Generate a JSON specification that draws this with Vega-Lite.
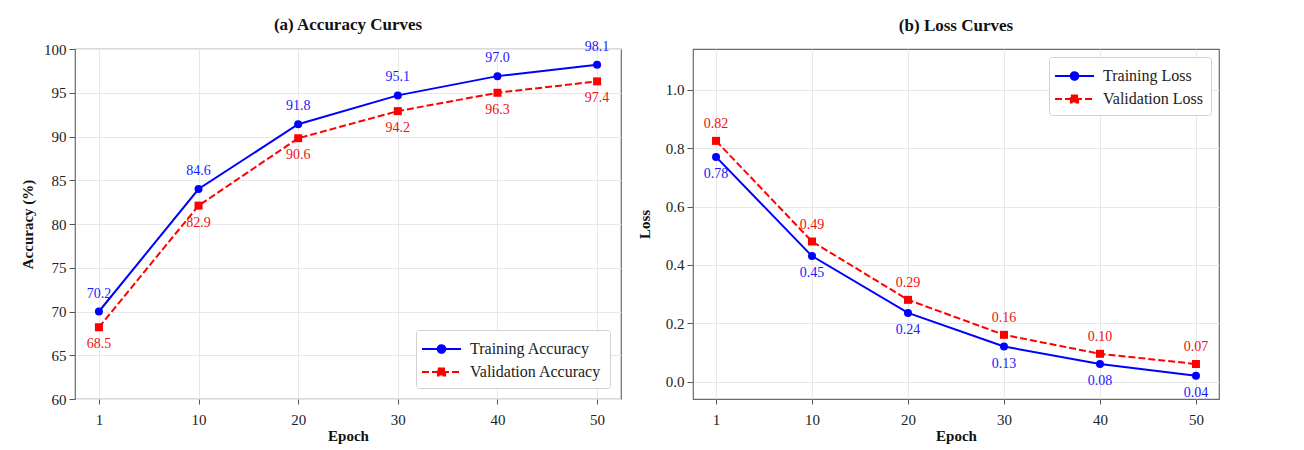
{
  "$schema": "https://vega.github.io/schema/vega-lite/v6.json",
  "padding": {"left": 19, "top": 15, "right": 5, "bottom": 5},
  "background": "white",
  "spacing": 14,
  "resolve": {
    "scale": {"fill": "independent", "stroke": "independent", "shape": "independent", "strokeDash": "independent", "x": "independent", "y": "independent"},
    "legend": {"fill": "independent", "stroke": "independent", "shape": "independent", "strokeDash": "independent"}
  },
  "config": {
    "font": "Liberation Serif",
    "view": {"stroke": "#6b6b6b", "strokeWidth": 1.2},
    "axis": {
      "labelFont": "Liberation Serif", "labelFontSize": 15, "labelColor": "#222222",
      "titleFont": "Liberation Serif", "titleFontSize": 15, "titleFontWeight": "bold", "titleColor": "#111111",
      "domain": false, "tickColor": "#555555", "tickSize": 5, "gridColor": "#e8e8e8", "gridWidth": 1, "labelPadding": 3
    },
    "title": {"font": "Liberation Serif", "fontSize": 17, "fontWeight": "bold", "color": "#111111", "offset": 6},
    "legend": {
      "labelFont": "Liberation Serif", "labelFontSize": 16, "labelColor": "#222222",
      "strokeColor": "#d0d0d0", "fillColor": "#ffffff", "padding": 8, "cornerRadius": 3,
      "symbolSize": 400, "symbolOffset": 6.5, "symbolStrokeWidth": 2, "symbolOpacity": 1, "offset": 11, "labelOffset": 17.5, "rowPadding": 4
    }
  },
  "datasets": {
    "acc": [
      {"series": "Training Accuracy", "epoch": 1, "value": 70.0, "label": "70.2"},
      {"series": "Training Accuracy", "epoch": 10, "value": 84.0, "label": "84.6"},
      {"series": "Training Accuracy", "epoch": 20, "value": 91.4, "label": "91.8"},
      {"series": "Training Accuracy", "epoch": 30, "value": 94.7, "label": "95.1"},
      {"series": "Training Accuracy", "epoch": 40, "value": 96.9, "label": "97.0"},
      {"series": "Training Accuracy", "epoch": 50, "value": 98.2, "label": "98.1"},
      {"series": "Validation Accuracy", "epoch": 1, "value": 68.2, "label": "68.5"},
      {"series": "Validation Accuracy", "epoch": 10, "value": 82.1, "label": "82.9"},
      {"series": "Validation Accuracy", "epoch": 20, "value": 89.8, "label": "90.6"},
      {"series": "Validation Accuracy", "epoch": 30, "value": 92.9, "label": "94.2"},
      {"series": "Validation Accuracy", "epoch": 40, "value": 95.0, "label": "96.3"},
      {"series": "Validation Accuracy", "epoch": 50, "value": 96.3, "label": "97.4"}
    ],
    "loss": [
      {"series": "Training Loss", "epoch": 1, "value": 0.77, "label": "0.78"},
      {"series": "Training Loss", "epoch": 10, "value": 0.43, "label": "0.45"},
      {"series": "Training Loss", "epoch": 20, "value": 0.235, "label": "0.24"},
      {"series": "Training Loss", "epoch": 30, "value": 0.12, "label": "0.13"},
      {"series": "Training Loss", "epoch": 40, "value": 0.06, "label": "0.08"},
      {"series": "Training Loss", "epoch": 50, "value": 0.02, "label": "0.04"},
      {"series": "Validation Loss", "epoch": 1, "value": 0.825, "label": "0.82"},
      {"series": "Validation Loss", "epoch": 10, "value": 0.48, "label": "0.49"},
      {"series": "Validation Loss", "epoch": 20, "value": 0.28, "label": "0.29"},
      {"series": "Validation Loss", "epoch": 30, "value": 0.16, "label": "0.16"},
      {"series": "Validation Loss", "epoch": 40, "value": 0.095, "label": "0.10"},
      {"series": "Validation Loss", "epoch": 50, "value": 0.06, "label": "0.07"}
    ]
  },
  "hconcat": [
    {
      "width": 546, "height": 350,
      "title": {"text": "(a) Accuracy Curves", "offset": 6},
      "data": {"name": "acc"},
      "encoding": {
        "x": {"field": "epoch", "type": "ordinal", "scale": {"type": "point", "padding": 0.24},
              "axis": {"title": "Epoch", "labelAngle": 0, "grid": true, "tickSize": 5, "labelPadding": 8, "titlePadding": 1}},
        "y": {"field": "value", "type": "quantitative", "scale": {"domain": [60, 100], "nice": false, "zero": false},
              "axis": {"title": "Accuracy (%)", "values": [60, 65, 70, 75, 80, 85, 90, 95, 100], "tickSize": 6, "titlePadding": 8}}
      },
      "layer": [
        {"transform": [{"filter": "datum.series === 'Training Accuracy'"}],
         "mark": {"type": "line", "color": "#0000ff", "strokeWidth": 2}},
        {"transform": [{"filter": "datum.series === 'Validation Accuracy'"}],
         "mark": {"type": "line", "color": "#ff0000", "strokeWidth": 2, "strokeDash": [7, 3]}},
        {"transform": [{"filter": "datum.series === 'Training Accuracy'"}],
         "mark": {"type": "point", "shape": "circle", "filled": true, "size": 64, "color": "#0000ff", "opacity": 1}},
        {"transform": [{"filter": "datum.series === 'Validation Accuracy'"}],
         "mark": {"type": "point", "shape": "square", "filled": true, "size": 64, "color": "#ff0000", "opacity": 1}},
        {"transform": [{"filter": "datum.series === 'Training Accuracy'"}],
         "mark": {"type": "text", "dy": -18, "fontSize": 14, "color": "#1a1aff"},
         "encoding": {"text": {"field": "label", "type": "nominal"}}},
        {"transform": [{"filter": "datum.series === 'Validation Accuracy'"}],
         "mark": {"type": "text", "dy": 17, "fontSize": 14, "color": "#ee1111"},
         "encoding": {"text": {"field": "label", "type": "nominal"}}},
        {"transform": [{"filter": "false"}],
         "mark": {"type": "point", "filled": true, "strokeWidth": 2, "opacity": 1},
         "encoding": {
           "fill": {"field": "series", "type": "nominal", "scale": {"domain": ["Training Accuracy", "Validation Accuracy"], "range": ["#0000ff", "#ff0000"]}, "legend": {"orient": "bottom-right", "title": null}},
           "stroke": {"field": "series", "type": "nominal", "scale": {"domain": ["Training Accuracy", "Validation Accuracy"], "range": ["#0000ff", "#ff0000"]}, "legend": {"orient": "bottom-right", "title": null}},
           "shape": {"field": "series", "type": "nominal", "scale": {"domain": ["Training Accuracy", "Validation Accuracy"], "range": ["M-1.95,0H1.95M0.38,0A0.38,0.38,0,1,1,-0.38,0A0.38,0.38,0,1,1,0.38,0Z", "M-1.95,0H1.95M-0.36,-0.36H0.36V0.36H-0.36Z"]}, "legend": {"orient": "bottom-right", "title": null}},
           "strokeDash": {"field": "series", "type": "nominal", "scale": {"domain": ["Training Accuracy", "Validation Accuracy"], "range": [[1, 0], [7, 3]]}, "legend": {"orient": "bottom-right", "title": null}}
         }}
      ]
    },
    {
      "width": 526, "height": 350,
      "title": {"text": "(b) Loss Curves", "offset": 14},
      "data": {"name": "loss"},
      "encoding": {
        "x": {"field": "epoch", "type": "ordinal", "scale": {"type": "point", "padding": 0.24},
              "axis": {"title": "Epoch", "labelAngle": 0, "grid": true, "tickSize": 5, "labelPadding": 8, "titlePadding": 1}},
        "y": {"field": "value", "type": "quantitative", "scale": {"domain": [-0.06, 1.14], "nice": false, "zero": false},
              "axis": {"title": "Loss", "values": [0, 0.2, 0.4, 0.6, 0.8, 1.0], "format": ".1f", "tickSize": 6, "titlePadding": 13}}
      },
      "layer": [
        {"transform": [{"filter": "datum.series === 'Training Loss'"}],
         "mark": {"type": "line", "color": "#0000ff", "strokeWidth": 2}},
        {"transform": [{"filter": "datum.series === 'Validation Loss'"}],
         "mark": {"type": "line", "color": "#ff0000", "strokeWidth": 2, "strokeDash": [7, 3]}},
        {"transform": [{"filter": "datum.series === 'Training Loss'"}],
         "mark": {"type": "point", "shape": "circle", "filled": true, "size": 64, "color": "#0000ff", "opacity": 1}},
        {"transform": [{"filter": "datum.series === 'Validation Loss'"}],
         "mark": {"type": "point", "shape": "square", "filled": true, "size": 64, "color": "#ff0000", "opacity": 1}},
        {"transform": [{"filter": "datum.series === 'Training Loss'"}],
         "mark": {"type": "text", "dy": 17, "fontSize": 14, "color": "#1a1aff"},
         "encoding": {"text": {"field": "label", "type": "nominal"}}},
        {"transform": [{"filter": "datum.series === 'Validation Loss'"}],
         "mark": {"type": "text", "dy": -17, "fontSize": 14, "color": "#ee1111"},
         "encoding": {"text": {"field": "label", "type": "nominal"}}},
        {"transform": [{"filter": "false"}],
         "mark": {"type": "point", "filled": true, "strokeWidth": 2, "opacity": 1},
         "encoding": {
           "fill": {"field": "series", "type": "nominal", "scale": {"domain": ["Training Loss", "Validation Loss"], "range": ["#0000ff", "#ff0000"]}, "legend": {"orient": "top-right", "title": null, "offset": 8}},
           "stroke": {"field": "series", "type": "nominal", "scale": {"domain": ["Training Loss", "Validation Loss"], "range": ["#0000ff", "#ff0000"]}, "legend": {"orient": "top-right", "title": null, "offset": 8}},
           "shape": {"field": "series", "type": "nominal", "scale": {"domain": ["Training Loss", "Validation Loss"], "range": ["M-1.95,0H1.95M0.38,0A0.38,0.38,0,1,1,-0.38,0A0.38,0.38,0,1,1,0.38,0Z", "M-1.95,0H1.95M-0.36,-0.36H0.36V0.36H-0.36Z"]}, "legend": {"orient": "top-right", "title": null, "offset": 8}},
           "strokeDash": {"field": "series", "type": "nominal", "scale": {"domain": ["Training Loss", "Validation Loss"], "range": [[1, 0], [7, 3]]}, "legend": {"orient": "top-right", "title": null, "offset": 8}}
         }}
      ]
    }
  ]
}
